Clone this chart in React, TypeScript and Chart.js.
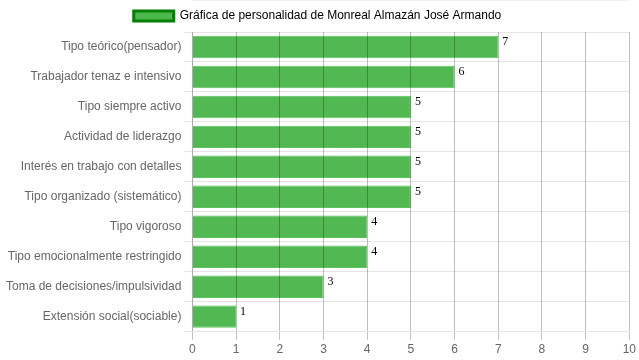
import React, { useEffect, useRef } from "react";
import { Chart, registerables } from "chart.js";

Chart.register(...registerables);

const categories = [
  "Tipo teórico(pensador)",
  "Trabajador tenaz e intensivo",
  "Tipo siempre activo",
  "Actividad de liderazgo",
  "Interés en trabajo con detalles",
  "Tipo organizado (sistemático)",
  "Tipo vigoroso",
  "Tipo emocionalmente restringido",
  "Toma de decisiones/impulsividad",
  "Extensión social(sociable)",
];
const values = [7, 6, 5, 5, 5, 5, 4, 4, 3, 1];
const seriesLabel = "Gráfica de personalidad de Monreal Almazán José Armando";

const valueLabels = {
  id: "valueLabels",
  afterDatasetsDraw(chart: any) {
    const ctx = chart.ctx;
    const meta = chart.getDatasetMeta(0);
    ctx.save();
    ctx.font = "12px 'Liberation Serif', 'DejaVu Serif', serif";
    ctx.fillStyle = "#000";
    ctx.textAlign = "left";
    ctx.textBaseline = "top";
    meta.data.forEach((bar: any, i: number) => {
      const h = bar.height;
      ctx.fillText(String(values[i]), bar.x + 4, bar.y - h / 2);
    });
    ctx.restore();
  },
};

export default function App() {
  const ref = useRef<HTMLCanvasElement>(null);
  useEffect(() => {
    document.body.style.margin = "0";
    const chart = new Chart(ref.current!, {
      type: "bar",
      data: {
        labels: categories,
        datasets: [
          {
            label: seriesLabel,
            data: values,
            backgroundColor: "rgba(76,183,76,0.97)",
            borderColor: "#5cc45c",
            borderWidth: 1,
            barPercentage: 0.75,
            categoryPercentage: 1,
          },
        ],
      },
      options: {
        indexAxis: "y",
        animation: false,
        responsive: false,
        maintainAspectRatio: false,
        layout: { padding: { left: 3, right: 7, top: 0, bottom: 0 } },
        plugins: {
          legend: {
            labels: {
              font: { family: "'Liberation Sans', Arial, sans-serif", size: 12 },
              color: "#666",
              boxWidth: 40,
              boxHeight: 10,
              generateLabels: (chart: any) => [
                {
                  text: seriesLabel,
                  fillStyle: "#4cb74c",
                  strokeStyle: "#008000",
                  lineWidth: 3,
                  datasetIndex: 0,
                  hidden: false,
                },
              ],
            },
          },
          tooltip: { enabled: false },
        },
        scales: {
          x: {
            min: 0,
            max: 10,
            ticks: {
              stepSize: 1,
              color: "#666",
              font: { family: "'Liberation Sans', Arial, sans-serif", size: 12 },
            },
            grid: { color: "rgba(0,0,0,0.25)", z: 1 },
          },
          y: {
            ticks: {
              color: "#666",
              font: { family: "'Liberation Sans', Arial, sans-serif", size: 12 },
            },
            grid: { color: "rgba(0,0,0,0.1)", offset: true },
          },
        },
      },
      plugins: [valueLabels],
    });
    return () => chart.destroy();
  }, []);
  return <canvas ref={ref} width={639} height={360} style={{ display: "block" }} />;
}
